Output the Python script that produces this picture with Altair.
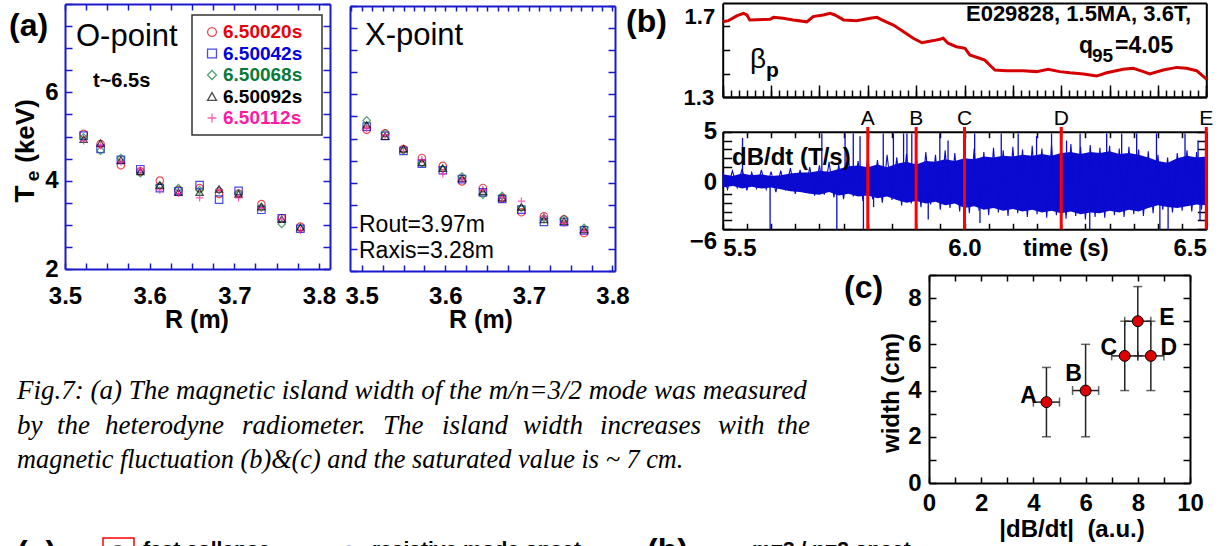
import altair as alt
import numpy as np
import pandas as pd

W, H = 1223, 546
SANS = "Liberation Sans"
SERIF = "Liberation Serif"
FRAME_BLUE = "#1a1acd"

# ---------------- data: panel (a) ----------------
series = ["6.50020s", "6.50042s", "6.50068s", "6.50092s", "6.50112s"]
series_colors = ["#e8000b", "#0000e0", "#0a7a3a", "#000000", "#ff1aa3"]
series_shapes = ["circle", "square", "diamond", "triangle-up", "M-1,0L1,0M0,-1L0,1"]

R_O = [3.522, 3.542, 3.566, 3.589, 3.612, 3.634, 3.659, 3.682, 3.705, 3.732, 3.756, 3.778]
Te_O_20 = [5.06, 4.83, 4.35, 4.21, 4.00, 3.79, 3.83, 3.70, 3.71, 3.47, 3.15, 2.96]
Te_O_42 = [5.02, 4.72, 4.47, 4.26, 3.83, 3.76, 3.90, 3.57, 3.77, 3.34, 3.15, 2.91]
Te_O_68 = [4.98, 4.68, 4.51, 4.17, 3.89, 3.83, 3.79, 3.79, 3.71, 3.40, 3.02, 2.91]
Te_O_92 = [4.94, 4.85, 4.47, 4.21, 3.90, 3.74, 3.74, 3.81, 3.70, 3.41, 3.13, 2.94]
Te_O_112 = [4.90, 4.79, 4.42, 4.24, 3.79, 3.71, 3.61, 3.79, 3.61, 3.38, 3.13, 2.87]

R_X = [3.506, 3.528, 3.550, 3.572, 3.597, 3.620, 3.645, 3.668, 3.691, 3.718, 3.742, 3.766]
Te_X_20 = [5.20, 5.12, 4.76, 4.56, 4.38, 4.03, 3.88, 3.65, 3.33, 3.24, 3.17, 2.86]
Te_X_42 = [5.27, 5.06, 4.72, 4.43, 4.28, 4.08, 3.78, 3.63, 3.39, 3.11, 3.11, 2.92]
Te_X_68 = [5.41, 5.12, 4.73, 4.44, 4.31, 4.14, 3.73, 3.70, 3.43, 3.20, 3.18, 2.98]
Te_X_92 = [5.31, 5.05, 4.77, 4.46, 4.33, 4.10, 3.80, 3.66, 3.45, 3.17, 3.13, 2.94]
Te_X_112 = [5.23, 5.08, 4.74, 4.52, 4.20, 4.07, 3.84, 3.66, 3.58, 3.24, 3.08, 2.90]

# ---------------- data: panel (b) ----------------
beta_t = [5.500, 5.512, 5.529, 5.543, 5.550, 5.556, 5.598, 5.605, 5.625, 5.646, 5.674, 5.687,
          5.708, 5.722, 5.732, 5.750, 5.777, 5.805, 5.819, 5.829, 5.853, 5.874, 5.894, 5.912,
          5.936, 5.949, 5.956, 5.966, 5.983, 6.001, 6.011, 6.025, 6.042, 6.052, 6.063, 6.087,
          6.121, 6.149, 6.173, 6.197, 6.218, 6.246, 6.273, 6.294, 6.328, 6.349, 6.370, 6.383,
          6.411, 6.439, 6.459, 6.480, 6.501]
beta_v = [1.620, 1.625, 1.645, 1.656, 1.649, 1.628, 1.631, 1.639, 1.635, 1.628, 1.620, 1.642,
          1.649, 1.656, 1.649, 1.628, 1.625, 1.635, 1.639, 1.628, 1.606, 1.578, 1.550, 1.531,
          1.540, 1.546, 1.550, 1.529, 1.514, 1.507, 1.479, 1.469, 1.457, 1.436, 1.415, 1.412,
          1.412, 1.408, 1.418, 1.408, 1.403, 1.398, 1.389, 1.403, 1.418, 1.422, 1.408, 1.398,
          1.415, 1.426, 1.422, 1.412, 1.375]

# dense core of the dB/dt band (read every 0.02 s)
env_t = [5.50, 5.52, 5.54, 5.56, 5.58, 5.60, 5.62, 5.64, 5.66, 5.68, 5.70, 5.72, 5.74, 5.76,
         5.78, 5.80, 5.82, 5.84, 5.86, 5.88, 5.90, 5.92, 5.94, 5.96, 5.98, 6.00, 6.02, 6.04,
         6.06, 6.08, 6.10, 6.12, 6.14, 6.16, 6.18, 6.20, 6.22, 6.24, 6.26, 6.28, 6.30, 6.32,
         6.34, 6.36, 6.38, 6.40, 6.42, 6.44, 6.46, 6.48, 6.50]
env_hi = [0.2, 0.0, 0.3, 0.1, 0.2, 0.0, 0.1, 0.3, 0.4, 0.4, 0.6, 0.5, 0.8, 1.1,
          1.2, 1.0, 1.3, 1.0, 1.4, 1.6, 1.3, 1.7, 1.6, 1.9, 1.7, 2.0, 1.9, 2.2,
          2.1, 2.3, 2.2, 2.4, 2.3, 2.5, 2.3, 2.6, 2.7, 2.5, 2.7, 2.6, 2.8, 2.5,
          2.6, 2.4, 2.1, 1.7, 1.5, 2.0, 2.3, 2.1, 2.2]
env_lo = [-1.3, -1.1, -1.4, -1.2, -1.4, -1.3, -1.5, -1.7, -1.8, -2.0, -2.1, -1.8, -2.2, -2.0,
          -2.3, -2.2, -2.5, -2.3, -2.7, -3.0, -2.8, -3.1, -2.9, -3.3, -3.1, -3.6, -3.4, -3.8,
          -3.6, -3.9, -3.7, -4.0, -3.8, -4.1, -3.9, -4.2, -4.0, -4.3, -4.1, -4.2, -3.9, -4.1,
          -3.8, -4.0, -3.6, -3.3, -3.5, -3.6, -3.4, -3.2, -3.3]
# oscillating trace extremes (read every 0.01 s, alternating maxima/minima)
trace_t = [round(5.50 + 0.01 * i, 2) for i in range(101)]
trace_v = [0.5, -1.5, 0.6, -1.3, 0.8, -1.6, 0.4, -1.4, 0.7, -1.5,
           0.5, -1.8, 0.6, -1.6, 0.9, -2.0, 0.7, -1.9, 1.0, -2.2,
           1.2, -2.1, 1.6, -2.4, 1.3, -2.6, 1.9, -2.3, 1.7, -2.8,
           2.2, -2.6, 1.8, -3.0, 2.4, -2.7, 2.1, -3.3, 2.5, -3.1,
           2.3, -3.5, 2.7, -3.2, 2.4, -3.8, 2.9, -3.6, 2.6, -4.0,
           2.8, -4.2, 3.1, -3.9, 2.7, -4.4, 3.2, -4.1, 2.9, -4.5,
           3.3, -4.2, 3.0, -4.6, 3.4, -4.3, 3.1, -4.7, 3.5, -4.4,
           3.2, -4.8, 3.6, -4.5, 3.3, -4.9, 3.5, -4.6, 3.2, -4.7,
           3.4, -4.4, 3.1, -4.6, 3.3, -4.3, 3.0, -4.5, 2.8, -4.2,
           2.4, -3.8, 2.1, -4.1, 2.6, -3.9, 2.9, -4.0, 2.7, -3.8,
           2.9]
spike_up_t = [5.541, 5.705, 5.753, 5.770, 5.784, 5.832, 5.853, 5.874, 5.881, 5.891, 5.949, 5.966,
              6.021, 6.076, 6.111, 6.149, 6.180, 6.211, 6.239, 6.294, 6.325, 6.356, 6.397, 6.456, 6.483]
spike_up_v = [4.3, 4.8, 4.8, 4.8, 4.5, 4.8, 4.8, 4.8, 4.8, 4.8, 4.8, 4.0,
              4.8, 4.8, 4.8, 4.5, 4.8, 4.0, 4.8, 4.8, 4.8, 4.8, 4.8, 4.8, 4.0]
spike_dn_t = [5.598, 5.736, 5.791, 5.812, 5.925, 6.032, 6.259, 6.404, 6.421, 6.487]
spike_dn_v = [-6.0, -6.0, -6.0, -3.5, -4.9, -5.3, -6.0, -6.0, -6.0, -5.0]
signal_mid = -0.6

event_t = [5.80, 5.90, 6.00, 6.20, 6.50]
event_lbl = ["A", "B", "C", "D", "E"]

# ---------------- data: panel (c) ----------------
c_lbl = ["A", "B", "C", "D", "E"]
c_x = [4.5, 6.0, 7.5, 8.5, 8.0]
c_y = [3.5, 4.0, 5.5, 5.5, 7.0]
c_xlo = [4.0, 5.5, 7.0, 8.0, 7.5]
c_xhi = [5.0, 6.5, 8.0, 9.0, 8.5]
c_ylo = [2.0, 2.0, 4.0, 4.0, 5.5]
c_yhi = [5.0, 6.0, 7.0, 7.0, 8.5]
c_dx = [-18, -12, -16, 18, 29]
c_dy = [-6, -17, -8, -8, -3]

# ---------------- layout (pixels) ----------------
O_X, O_Y = [65, 330], [269, 4]
X_X, X_Y = [350, 615], [271, 6]
B_X, BETA_Y = [722.7, 1206.3], [97, 3]
DB_Y = [229.3, 131.7]
C_X, C_Y = [929, 1190], [483, 275]


def sc(dom, rng):
    return alt.Scale(domain=dom, range=rng, zero=False, nice=False)


def off(orient, pix):
    if orient == "bottom":
        return pix - H
    if orient == "top":
        return -pix
    if orient == "left":
        return -pix
    return pix - W


def tick_axis(orient, pix, values=None, size=5, color="black", domain=True, ticks=True):
    kw = dict(orient=orient, offset=off(orient, pix), labels=False, title=None, grid=False,
              domain=domain, domainColor=color, domainWidth=2, ticks=ticks)
    if ticks:
        kw.update(values=values, tickSize=size, tickColor=color, tickWidth=1.5)
    return alt.Axis(**kw)


def label_axis(orient, pix, values, fmt, pad, size=23, flush=False, baseline=None, loff=0):
    kw = dict(orient=orient, offset=off(orient, pix), values=values, format=fmt, labels=True,
              ticks=False, tickSize=0, domain=False, title=None, grid=False,
              labelFont=SANS, labelFontSize=size, labelFontWeight="bold", labelColor="black",
              labelPadding=pad, labelFlush=flush, labelOverlap=False)
    if baseline:
        kw["labelBaseline"] = baseline
    if loff:
        kw["labelOffset"] = loff
    return alt.Axis(**kw)


def guide(xdom, xr, ydom, yr, xaxis=None, yaxis=None):
    df = pd.DataFrame({"gx": [xdom[0]], "gy": [ydom[0]]})
    return alt.Chart(df).mark_point(opacity=0).encode(
        x=alt.X("gx:Q", scale=sc(xdom, xr), axis=xaxis),
        y=alt.Y("gy:Q", scale=sc(ydom, yr), axis=yaxis))


_one = pd.DataFrame({"k": [0]})


def txt(s, x, y, size, weight="normal", align="left", baseline="alphabetic", angle=0,
        color="black", font=SANS, style="normal"):
    kw = dict(text=s, font=font, fontSize=size, fontWeight=weight, align=align,
              baseline=baseline, color=color, fontStyle=style)
    if angle:
        kw["angle"] = angle
    return alt.Chart(_one).mark_text(**kw).encode(x=alt.value(x), y=alt.value(y))


def ticks_range(a, b, step):
    n = int(round((b - a) / step))
    return [round(a + i * step, 5) for i in range(n + 1)]


layers = []

# ============ panel (a) ============
color_scale = alt.Scale(domain=series, range=series_colors)
shape_scale = alt.Scale(domain=series, range=series_shapes)


def te_frame(R, lists):
    rows = []
    for s, vals in zip(series, lists):
        for r, v in zip(R, vals):
            rows.append({"R": r, "Te": v, "series": s})
    return pd.DataFrame(rows)


dfO = te_frame(R_O, [Te_O_20, Te_O_42, Te_O_68, Te_O_92, Te_O_112])
dfX = te_frame(R_X, [Te_X_20, Te_X_42, Te_X_68, Te_X_92, Te_X_112])

AX_RO = [3.5, 3.813]
AX_RX = [3.486, 3.803]
AX_T = [2, 8]

for df, xd, xr, yr in [(dfO, AX_RO, O_X, O_Y), (dfX, AX_RX, X_X, X_Y)]:
    layers.append(alt.Chart(df).mark_point(filled=False, size=55, strokeWidth=1.2).encode(
        x=alt.X("R:Q", scale=sc(xd, xr), axis=None),
        y=alt.Y("Te:Q", scale=sc(AX_T, yr), axis=None),
        color=alt.Color("series:N", scale=color_scale, legend=None),
        shape=alt.Shape("series:N", scale=shape_scale, legend=None)))

# O-panel guides
layers.append(guide(AX_RO, O_X, AX_T, O_Y,
                    label_axis("bottom", O_Y[0], [3.5, 3.6, 3.7, 3.8], ".1f", 15, size=24),
                    label_axis("left", O_X[0], [2, 4, 6], "d", 7, size=24)))
layers.append(guide(AX_RO, O_X, AX_T, O_Y,
                    tick_axis("top", O_Y[0], ticks_range(3.5, 3.8, 0.025), 6, FRAME_BLUE),
                    tick_axis("right", O_X[0], ticks_range(2, 8, 0.5), 7, FRAME_BLUE)))
layers.append(guide(AX_RO, O_X, AX_T, O_Y,
                    tick_axis("bottom", O_Y[1], ticks_range(3.5, 3.8, 0.025), 6, FRAME_BLUE),
                    tick_axis("left", O_X[1], ticks_range(2, 8, 0.5), 7, FRAME_BLUE)))
# X-panel guides
layers.append(guide(AX_RX, X_X, AX_T, X_Y,
                    label_axis("bottom", X_Y[0], [3.5, 3.6, 3.7, 3.8], ".1f", 13, size=24), None))
layers.append(guide(AX_RX, X_X, AX_T, X_Y,
                    tick_axis("top", X_Y[0], ticks_range(3.5, 3.8, 0.025), 6, FRAME_BLUE),
                    tick_axis("right", X_X[0], ticks_range(2, 8, 0.5), 7, FRAME_BLUE)))
layers.append(guide(AX_RX, X_X, AX_T, X_Y,
                    tick_axis("bottom", X_Y[1], ticks_range(3.4875, 3.8, 0.0125), 5, FRAME_BLUE),
                    tick_axis("left", X_X[1], ticks_range(2, 8, 0.5), 7, FRAME_BLUE)))

# legend box in O panel
layers.append(alt.Chart(_one).mark_rect(fill="white", stroke="#333333", strokeWidth=1.5).encode(
    x=alt.value(192), x2=alt.value(322), y=alt.value(15), y2=alt.value(135)))
dfLeg = pd.DataFrame({"series": series, "row": list(range(len(series)))})
leg_y = alt.Y("row:Q", scale=sc([0, 4], [32, 118]), axis=None)
layers.append(alt.Chart(dfLeg).mark_point(filled=False, size=80, strokeWidth=1.3).encode(
    x=alt.value(212), y=leg_y,
    color=alt.Color("series:N", scale=color_scale, legend=None),
    shape=alt.Shape("series:N", scale=shape_scale, legend=None)))
layers.append(alt.Chart(dfLeg).mark_text(font=SANS, fontSize=19, fontWeight="bold", align="left",
                                         baseline="middle").encode(
    x=alt.value(223), y=leg_y, text="series:N",
    color=alt.Color("series:N", scale=color_scale, legend=None)))

# panel (a) texts
layers += [
    txt("(a)", 9, 36, 32, "bold"),
    txt("O-point", 76, 46, 31),
    txt("t~6.5s", 93, 87, 20, "bold"),
    txt("X-point", 365, 45, 31),
    txt("Rout=3.97m", 359, 232, 23),
    txt("Raxis=3.28m", 359, 258, 23),
    txt("R (m)", 197, 328, 25, "bold", align="center"),
    txt("R (m)", 481, 328, 25, "bold", align="center"),
    txt("T", 34, 194, 28, "bold", align="center", angle=270),
    txt("e", 39, 176, 19, "bold", align="center", angle=270),
    txt("(keV)", 34, 131, 26, "bold", align="center", angle=270),
]

# ============ panel (b) ============
T_DOM = [5.5, 6.5]
BETA_DOM = [1.3, 1.7]
DB_DOM = [-6, 5]

dfBeta = pd.DataFrame({"t": beta_t, "beta": beta_v})
layers.append(alt.Chart(dfBeta).mark_line(color="#d40000", strokeWidth=3).encode(
    x=alt.X("t:Q", scale=sc(T_DOM, B_X), axis=None),
    y=alt.Y("beta:Q", scale=sc(BETA_DOM, BETA_Y), axis=None)))

layers.append(guide(T_DOM, B_X, BETA_DOM, BETA_Y,
                    tick_axis("top", BETA_Y[0], ticks_range(5.5, 6.5, 0.1), 12),
                    label_axis("left", B_X[0], [1.3], ".1f", 9, size=22)))
layers.append(guide(T_DOM, B_X, BETA_DOM, BETA_Y,
                    tick_axis("top", BETA_Y[0], ticks_range(5.5, 6.5, 0.1 / 6), 7),
                    label_axis("left", B_X[0], [1.7], ".1f", 8, size=22, baseline="top", loff=3)))
layers.append(guide(T_DOM, B_X, BETA_DOM, BETA_Y,
                    tick_axis("bottom", BETA_Y[1], ticks=False),
                    tick_axis("right", B_X[0], [1.4, 1.5, 1.6], 7)))
layers.append(guide(T_DOM, B_X, BETA_DOM, BETA_Y, None,
                    tick_axis("left", B_X[1], ticks=False)))

# dB/dt signal
SIG_BLUE = "#0a0ad0"
xs_db = alt.X("t:Q", scale=sc(T_DOM, B_X), axis=None)
dfEnv = pd.DataFrame({"t": env_t, "hi": env_hi, "lo": env_lo})
layers.append(alt.Chart(dfEnv).mark_area(color=SIG_BLUE, opacity=1).encode(
    x=xs_db, y=alt.Y("hi:Q", scale=sc(DB_DOM, DB_Y), axis=None), y2="lo:Q"))
dfTr = pd.DataFrame({"t": trace_t, "v": trace_v})
layers.append(alt.Chart(dfTr).mark_line(color=SIG_BLUE, strokeWidth=1.1).encode(
    x=xs_db, y=alt.Y("v:Q", scale=sc(DB_DOM, DB_Y), axis=None)))
dfSp = pd.DataFrame({"t": spike_up_t + spike_dn_t, "v": spike_up_v + spike_dn_v,
                     "m": [signal_mid] * (len(spike_up_t) + len(spike_dn_t))})
layers.append(alt.Chart(dfSp).mark_rule(color=SIG_BLUE, strokeWidth=1.3).encode(
    x=xs_db, y=alt.Y("v:Q", scale=sc(DB_DOM, DB_Y), axis=None), y2="m:Q"))

# event lines and letters
dfEv = pd.DataFrame({"t": event_t, "lbl": event_lbl})
layers.append(alt.Chart(dfEv).mark_rule(color="#ff0000", strokeWidth=3).encode(
    x=alt.X("t:Q", scale=sc(T_DOM, B_X), axis=None), y=alt.value(127), y2=alt.value(DB_Y[0])))
layers.append(alt.Chart(dfEv).mark_text(font=SANS, fontSize=21, align="center",
                                        baseline="alphabetic", color="black").encode(
    x=alt.X("t:Q", scale=sc(T_DOM, B_X), axis=None), y=alt.value(125), text="lbl:N"))

layers.append(guide(T_DOM, B_X, DB_DOM, DB_Y,
                    label_axis("bottom", DB_Y[0], [5.5, 6.0, 6.5], ".1f", 7, size=24, flush=True),
                    label_axis("left", B_X[0], [5], "d", 6, size=24)))
layers.append(guide(T_DOM, B_X, DB_DOM, DB_Y,
                    tick_axis("top", DB_Y[0], ticks_range(5.5, 6.5, 0.05), 6),
                    label_axis("left", B_X[0], [-6], "d", 6, size=24, baseline="top")))
layers.append(guide(T_DOM, B_X, DB_DOM, DB_Y,
                    tick_axis("bottom", DB_Y[1], ticks_range(5.5, 6.5, 0.05), 6),
                    tick_axis("right", B_X[0], ticks_range(-6, 5, 1), 9)))
layers.append(guide(T_DOM, B_X, DB_DOM, DB_Y, None,
                    tick_axis("left", B_X[1], ticks_range(-6, 5, 1), 9)))
layers.append(guide(T_DOM, B_X, DB_DOM, DB_Y, None,
                    label_axis("left", B_X[0], [0], "d", 6, size=24, loff=6)))

layers += [
    txt("(b)", 626, 32, 32, "bold"),
    txt("\u03b2", 750, 68, 28),
    txt("p", 766, 77, 21, "bold"),
    txt("E029828, 1.5MA, 3.6T,", 1191, 21, 22, "bold", align="right"),
    txt("q", 1079, 53, 23, "bold"),
    txt("95", 1092, 62, 19, "bold"),
    txt("=4.05", 1115, 53, 23, "bold"),
    txt("dB/dt (T/s)", 732, 165, 24, "bold"),
    txt("time (s)", 1066, 256, 24, "bold", align="center"),
]

# ============ panel (c) ============
C_XDOM, C_YDOM = [0, 10], [0, 9]
dfC = pd.DataFrame({"lbl": c_lbl, "x": c_x, "y": c_y, "xlo": c_xlo, "xhi": c_xhi,
                    "ylo": c_ylo, "yhi": c_yhi, "dx": c_dx, "dy": c_dy})
cxs = lambda f: alt.X(f, scale=sc(C_XDOM, C_X), axis=None)
cys = lambda f: alt.Y(f, scale=sc(C_YDOM, C_Y), axis=None)
layers.append(alt.Chart(dfC).mark_rule(color="#222222", strokeWidth=1.5).encode(
    x=cxs("x:Q"), y=cys("ylo:Q"), y2="yhi:Q"))
layers.append(alt.Chart(dfC).mark_rule(color="#222222", strokeWidth=1.5).encode(
    x=cxs("xlo:Q"), x2="xhi:Q", y=cys("y:Q")))
for f in ["ylo", "yhi"]:
    layers.append(alt.Chart(dfC).mark_tick(orient="horizontal", size=9, thickness=1.5,
                                           color="#222222").encode(x=cxs("x:Q"), y=cys(f + ":Q")))
for f in ["xlo", "xhi"]:
    layers.append(alt.Chart(dfC).mark_tick(orient="vertical", size=9, thickness=1.5,
                                           color="#222222").encode(x=cxs(f + ":Q"), y=cys("y:Q")))
layers.append(alt.Chart(dfC).mark_point(filled=True, size=120, color="#dd0000", stroke="black",
                                        strokeWidth=1, opacity=1).encode(x=cxs("x:Q"), y=cys("y:Q")))
for i in range(len(c_lbl)):
    layers.append(alt.Chart(dfC.iloc[[i]]).mark_text(
        font=SANS, fontSize=23, fontWeight="bold", align="center", baseline="middle",
        dx=c_dx[i], dy=c_dy[i]).encode(x=cxs("x:Q"), y=cys("y:Q"), text="lbl:N"))

layers.append(guide(C_XDOM, C_X, C_YDOM, C_Y,
                    label_axis("bottom", C_Y[0], [0, 2, 4, 6, 8, 10], "d", 8, size=24),
                    label_axis("left", C_X[0], [0, 2, 4, 6, 8], "d", 8, size=24)))
layers.append(guide(C_XDOM, C_X, C_YDOM, C_Y,
                    tick_axis("top", C_Y[0], ticks_range(0, 10, 1), 6),
                    tick_axis("right", C_X[0], ticks_range(0, 9, 1), 7)))
layers.append(guide(C_XDOM, C_X, C_YDOM, C_Y,
                    tick_axis("bottom", C_Y[1], ticks_range(0, 10, 1), 6),
                    tick_axis("left", C_X[1], ticks_range(0, 9, 1), 7)))
layers += [
    txt("(c)", 844, 298, 32, "bold"),
    txt("width  (cm)", 899, 393, 24, "bold", align="center", angle=270),
    txt("|dB/dt|\u00a0\u00a0(a.u.)", 1072, 537, 24, "bold", align="center"),
]

# ============ caption ============
CAP = 27
layers.append(txt("Fig.7: (a) The magnetic island width of the m/n=3/2 mode was measured",
                  17, 399, CAP, font=SERIF, style="italic"))
line2_words = ["by", "the", "heterodyne", "radiometer.", "The", "island", "width", "increases", "with", "the"]
line2_x = [17, 57, 105, 242, 383, 442, 523, 600, 718, 777]
dfW = pd.DataFrame({"w": line2_words, "px": line2_x})
layers.append(alt.Chart(dfW).mark_text(font=SERIF, fontSize=CAP, fontStyle="italic", align="left",
                                       baseline="alphabetic", color="black").encode(
    x=alt.X("px:Q", scale=None, axis=None), y=alt.value(434), text="w:N"))
layers.append(txt("magnetic fluctuation (b)&(c) and the saturated value  is ~ 7 cm.",
                  17, 468, 26.3, font=SERIF, style="italic"))

# ============ bottom strip (cut off) ============
layers += [
    txt("(a)", 17, 563, 32, "bold"),
    txt("fast collapse", 143, 556, 21, "bold"),
    txt("resistive mode onset", 372, 556, 21, "bold"),
    txt("(b)", 647, 561, 32, "bold"),
    txt("m=3 / n=2 onset", 752, 556, 21, "bold"),
]
layers.append(alt.Chart(_one).mark_rect(fill="white", stroke="#ff0000", strokeWidth=1.5).encode(
    x=alt.value(103), x2=alt.value(134), y=alt.value(538), y2=alt.value(570)))
layers.append(alt.Chart(_one).mark_point(filled=True, size=260, color="black").encode(
    x=alt.value(118), y=alt.value(553)))
layers.append(alt.Chart(_one).mark_point(filled=True, size=170, color="#0000ee").encode(
    x=alt.value(349), y=alt.value(552)))

chart = alt.layer(*layers).resolve_scale(
    x="independent", y="independent"
).resolve_axis(
    x="independent", y="independent"
).properties(
    width=W, height=H, autosize=alt.AutoSizeParams(type="none"), padding=0
).configure_view(stroke=None).configure_axis(grid=False)

chart.save("out.html", embed_options={"renderer": "svg", "actions": False})
